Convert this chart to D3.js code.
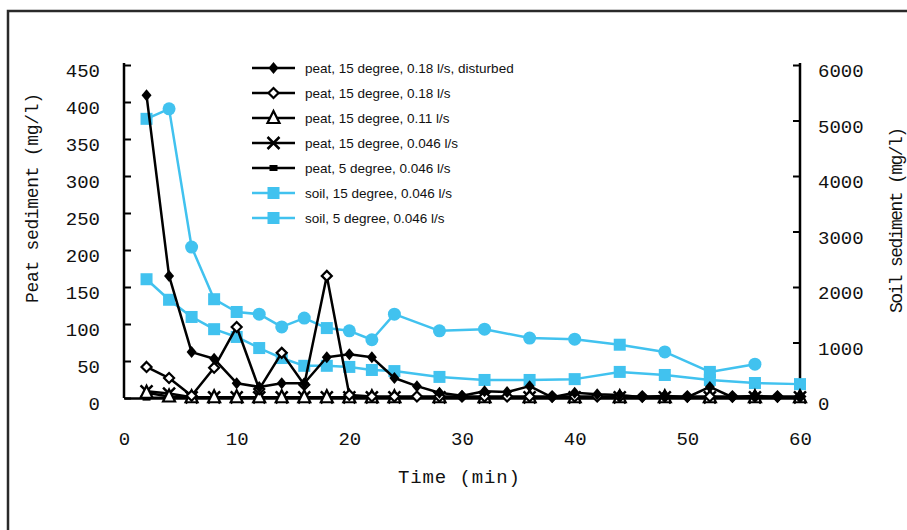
<!DOCTYPE html>
<html>
<head>
<meta charset="utf-8">
<script src="https://cdn.jsdelivr.net/npm/d3@7"></script>
<style>
  body { margin: 0; background: #fff; }
  svg { display: block; }
</style>
</head>
<body>
<div class="chart"></div>
<script>
// sampling times (min)
var tEvery2 = [2, 4, 6, 8, 10, 12, 14, 16, 18, 20, 22, 24, 26, 28, 30, 32, 34, 36, 38, 40, 42, 44, 46, 48, 50, 52, 54, 56, 58, 60];
var tSparse = [2, 4, 6, 8, 10, 12, 14, 16, 18, 20, 22, 24, 28, 32, 36, 40, 44, 48, 52, 56, 60];

// peat sediment (mg/l), left axis
var peatDisturbed = [409, 165, 62, 53, 20, 15, 20, 20, 55, 59, 55, 27, 16, 7, 3, 9, 8, 16, 1, 7, 5, 4, 1, 3, 1, 15, 1, 3, 1, 1];
var peat018 = [42, 27, 3, 41, 96, 12, 61, 18, 165, 4, 2, 2, 2, 2, 2, 2, 2, 2, 2, 2, 2, 2, 2, 2, 2, 2, 2, 2, 2, 2];
var peat011 = [7, 2, 1, 1, 1, 1, 1, 1, 1, 1, 1, 1, 1, 1, 1, 1, 1, 1, 1, 1, 1];
var peat0046 = [9, 6, 1, 1, 1, 1, 1, 1, 1, 1, 1, 1, 1, 1, 1, 1, 1, 1, 1, 1, 1];
var peat5deg = [0.5, 0.5, 0.5, 0.5, 0.5, 0.5, 0.5, 0.5, 0.5, 0.5, 0.5, 0.5, 0.5, 0.5, 0.5, 0.5, 0.5, 0.5, 0.5, 0.5, 0.5];

// soil sediment (mg/l), right axis
var soil15 = [5030, 5210, 2720, 1780, 1550, 1510, 1280, 1440, 1260, 1210, 1050, 1510, 1210, 1240, 1080, 1060, 960, 830, 470, 610];
var soil15Marker = ['s', 'c', 'c', 's', 's', 'c', 'c', 'c', 's', 'c', 'c', 'c', 'c', 'c', 'c', 'c', 's', 'c', 's', 'c'];
var soil5 = [2140, 1770, 1460, 1240, 1100, 900, 720, 580, 580, 560, 505, 485, 380, 325, 325, 340, 470, 415, 325, 270, 250];

var xTicks = [0, 10, 20, 30, 40, 50, 60];
var leftTicks = [0, 50, 100, 150, 200, 250, 300, 350, 400, 450];
var rightTicks = [0, 1000, 2000, 3000, 4000, 5000, 6000];

var legendNames = [
    'peat, 15 degree, 0.18 l/s, disturbed',
    'peat, 15 degree, 0.18 l/s',
    'peat, 15 degree, 0.11 l/s',
    'peat, 15 degree, 0.046 l/s',
    'peat, 5 degree, 0.046 l/s',
    'soil, 15 degree, 0.046 l/s',
    'soil, 5 degree, 0.046 l/s'
];

var svgWidth = 907;
var svgHeight = 530;
var blue = '#41c2ef';
var monoFont = '"Liberation Mono", monospace';

var svg = d3.select('.chart').append('svg')
    .attr('width', svgWidth)
    .attr('height', svgHeight);

// chart area frame (runs off the right and bottom edges)
svg.append('rect')
    .attr('x', 8).attr('y', 11)
    .attr('width', 920).attr('height', 540)
    .attr('fill', 'none')
    .attr('stroke', '#2a2a2a')
    .attr('stroke-width', 2.5);

var x = d3.scaleLinear().domain([0, 60]).range([124, 800]);
var yL = d3.scaleLinear().domain([0, 450]).range([398, 65]);
var yR = d3.scaleLinear().domain([0, 6000]).range([398, 65]);

// axes
var leftAxis = svg.append('g')
    .attr('transform', 'translate(124,0)')
    .call(d3.axisLeft(yL).tickValues(leftTicks).tickSize(-7).tickPadding(24));
var rightAxis = svg.append('g')
    .attr('transform', 'translate(800,0)')
    .call(d3.axisRight(yR).tickValues(rightTicks).tickFormat(d3.format('d')).tickSize(-7).tickPadding(18));
var bottomAxis = svg.append('g')
    .attr('transform', 'translate(0,398)')
    .call(d3.axisBottom(x).tickValues(xTicks).tickSize(0).tickPadding(34));

[leftAxis, rightAxis, bottomAxis].forEach(function(g) {
    g.select('.domain').attr('stroke', '#000').attr('stroke-width', 2.5);
    g.selectAll('.tick line').attr('stroke', '#000').attr('stroke-width', 2);
    g.selectAll('.tick text')
        .attr('font-family', monoFont)
        .attr('font-size', '19px')
        .attr('fill', '#111');
});
leftAxis.selectAll('.tick text').attr('dy', '0.62em');
rightAxis.selectAll('.tick text').attr('dy', '0.62em');
leftAxis.select('.domain').attr('d', 'M0,63V398');
rightAxis.select('.domain').attr('d', 'M0,63V398');

// axis titles
svg.append('text')
    .attr('transform', 'translate(38,198) rotate(-90)')
    .attr('text-anchor', 'middle')
    .attr('font-family', monoFont)
    .attr('font-size', '18px')
    .attr('fill', '#111')
    .attr('textLength', 210)
    .text('Peat sediment (mg/l)');
svg.append('text')
    .attr('transform', 'translate(902,220) rotate(-90)')
    .attr('text-anchor', 'middle')
    .attr('font-family', monoFont)
    .attr('font-size', '18px')
    .attr('fill', '#111')
    .attr('textLength', 186)
    .text('Soil sediment (mg/l)');
svg.append('text')
    .attr('x', 459).attr('y', 483)
    .attr('text-anchor', 'middle')
    .attr('font-family', monoFont)
    .attr('font-size', '19px')
    .attr('fill', '#111')
    .attr('textLength', 122)
    .text('Time (min)');

// marker drawing
function drawMarker(g, type, cx, cy, color) {
    if (type === 'diamondFilled') {
        g.append('path')
            .attr('d', 'M' + cx + ',' + (cy - 6) + 'L' + (cx + 5) + ',' + cy + 'L' + cx + ',' + (cy + 6) + 'L' + (cx - 5) + ',' + cy + 'Z')
            .attr('fill', '#000');
    } else if (type === 'diamondOpen') {
        g.append('path')
            .attr('d', 'M' + cx + ',' + (cy - 5) + 'L' + (cx + 5) + ',' + cy + 'L' + cx + ',' + (cy + 5) + 'L' + (cx - 5) + ',' + cy + 'Z')
            .attr('fill', '#fff').attr('stroke', '#000').attr('stroke-width', 2.2);
    } else if (type === 'triangle') {
        g.append('path')
            .attr('d', 'M' + cx + ',' + (cy - 7) + 'L' + (cx + 6) + ',' + (cy + 5) + 'L' + (cx - 6) + ',' + (cy + 5) + 'Z')
            .attr('fill', '#fff').attr('stroke', '#000').attr('stroke-width', 2.2);
    } else if (type === 'cross') {
        g.append('path')
            .attr('d', 'M' + (cx - 6) + ',' + (cy - 6) + 'L' + (cx + 6) + ',' + (cy + 6) + 'M' + (cx + 6) + ',' + (cy - 6) + 'L' + (cx - 6) + ',' + (cy + 6))
            .attr('stroke', '#000').attr('stroke-width', 2.5);
    } else if (type === 'smallSquare') {
        g.append('rect')
            .attr('x', cx - 4).attr('y', cy - 3).attr('width', 8).attr('height', 6)
            .attr('fill', '#000');
    } else if (type === 'c') {
        g.append('circle')
            .attr('cx', cx).attr('cy', cy).attr('r', 6.5)
            .attr('fill', color);
    } else {
        g.append('rect')
            .attr('x', cx - 6).attr('y', cy - 6).attr('width', 12).attr('height', 12)
            .attr('fill', color);
    }
}

var series = [
    { name: legendNames[0], t: tEvery2, v: peatDisturbed, y: yL, color: '#000', marker: 'diamondFilled' },
    { name: legendNames[1], t: tEvery2, v: peat018, y: yL, color: '#000', marker: 'diamondOpen' },
    { name: legendNames[2], t: tSparse, v: peat011, y: yL, color: '#000', marker: 'triangle' },
    { name: legendNames[3], t: tSparse, v: peat0046, y: yL, color: '#000', marker: 'cross' },
    { name: legendNames[4], t: tSparse, v: peat5deg, y: yL, color: '#000', marker: 'smallSquare' },
    { name: legendNames[5], t: tSparse.slice(0, soil15.length), v: soil15, y: yR, color: blue, marker: soil15Marker },
    { name: legendNames[6], t: tSparse, v: soil5, y: yR, color: blue, marker: 's' }
];

// draw soil first, then peat on top
var drawOrder = [6, 5, 4, 3, 2, 1, 0];
drawOrder.forEach(function(k) {
    var s = series[k];
    var pts = s.v.map(function(d, i) { return [s.t[i], d]; });
    var line = d3.line()
        .x(function(d) { return x(d[0]); })
        .y(function(d) { return s.y(d[1]); });
    var g = svg.append('g');
    g.append('path')
        .datum(pts)
        .attr('d', line)
        .attr('fill', 'none')
        .attr('stroke', s.color)
        .attr('stroke-width', 2.5)
        .attr('stroke-linejoin', 'round');
    pts.forEach(function(d, i) {
        var type = Array.isArray(s.marker) ? s.marker[i] : s.marker;
        drawMarker(g, type, x(d[0]), s.y(d[1]), s.color);
    });
});

// legend
var legend = svg.append('g');
series.forEach(function(s, i) {
    var ly = 68 + i * 25;
    legend.append('line')
        .attr('x1', 252).attr('x2', 295)
        .attr('y1', ly).attr('y2', ly)
        .attr('stroke', s.color)
        .attr('stroke-width', 2.5);
    var type = Array.isArray(s.marker) ? 's' : s.marker;
    drawMarker(legend, type, 273.5, ly, s.color);
    legend.append('text')
        .attr('x', 305).attr('y', ly)
        .attr('dy', '0.35em')
        .attr('font-family', '"Liberation Sans", Arial, sans-serif')
        .attr('font-size', '13.5px')
        .attr('fill', '#111')
        .text(s.name);
});
</script>
</body>
</html>
